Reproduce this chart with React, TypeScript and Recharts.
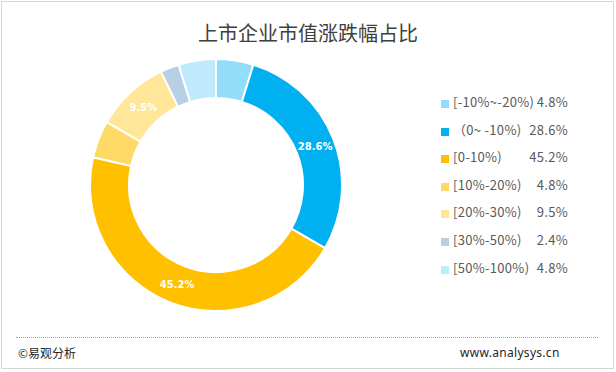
import React from 'react';
import { PieChart, Pie, Cell, Legend } from 'recharts';

const ranges = ['[-10%~-20%)', '（0~ -10%)', '[0-10%)', '[10%-20%)', '[20%-30%)', '[30%-50%)', '[50%-100%)'];
const shares = [4.8, 28.6, 45.2, 4.8, 9.5, 2.4, 4.8];
const colors = ['#92ddfa', '#00b0f0', '#ffc000', '#ffd966', '#ffe699', '#b8cfe6', '#bfeafc'];

const data = ranges.map((name, i) => ({ name, value: shares[i] }));

const RADIAN = Math.PI / 180;

const renderLabel = (props: any) => {
  const { cx, cy, midAngle, innerRadius, outerRadius, value } = props;
  if (value < 5) return null;
  const r = (innerRadius + outerRadius) / 2;
  const x = cx + r * Math.cos(-midAngle * RADIAN);
  const y = cy + r * Math.sin(-midAngle * RADIAN);
  return (
    <text x={x} y={y} fill="#fff" fontSize={10} fontWeight={600} fontFamily="DejaVu Sans" textAnchor="middle" dominantBaseline="central">
      {value.toFixed(1)}%
    </text>
  );
};

const renderLegend = () => (
  <div style={{ fontFamily: '"Noto Sans CJK SC", sans-serif', fontSize: 13, color: '#595959', letterSpacing: 0.3 }}>
    {data.map((d, i) => (
      <div key={d.name} style={{ position: 'relative', height: 27.6, width: 127 }}>
        <span style={{ position: 'absolute', left: 0, top: 4, width: 8, height: 8, background: colors[i] }} />
        <span style={{ position: 'absolute', left: 12, top: -4 }}>{d.name}</span>
        <span style={{ position: 'absolute', right: 0, top: -4 }}>{d.value.toFixed(1)}%</span>
      </div>
    ))}
  </div>
);

export default function App() {
  return (
    <div style={{ position: 'absolute', left: 0, top: 0, width: 616, height: 372, background: '#fff' }}>
      <div style={{ position: 'absolute', left: 1, top: 1, width: 611, height: 366, border: '1px solid #d6d6d6' }} />
      <div style={{ position: 'absolute', left: 0, top: 18, width: 616, textAlign: 'center', fontFamily: '"Noto Sans CJK SC", sans-serif', fontSize: 20, color: '#404040' }}>
        上市企业市值涨跌幅占比
      </div>
      <PieChart width={616} height={372} margin={{ top: 0, right: 0, bottom: 0, left: 0 }} style={{ position: 'absolute', left: 0, top: 0 }}>
        <Pie
          data={data}
          dataKey="value"
          nameKey="name"
          cx={216}
          cy={185}
          innerRadius={87}
          outerRadius={126}
          startAngle={90}
          endAngle={-270}
          stroke="#fff"
          strokeWidth={2}
          label={renderLabel}
          labelLine={false}
          isAnimationActive={false}
        >
          {data.map((d, i) => (
            <Cell key={d.name} fill={colors[i]} />
          ))}
        </Pie>
        <Legend
          layout="vertical"
          content={renderLegend}
          wrapperStyle={{ position: 'absolute', left: 441, top: 96, width: 127 }}
        />
      </PieChart>
      <div style={{ position: 'absolute', left: 16, top: 337, width: 582, borderTop: '1px dotted #a6a6a6' }} />
      <div style={{ position: 'absolute', left: 18, top: 344, fontFamily: '"Noto Sans CJK SC", sans-serif', fontSize: 12, color: '#262626' }}>
        ©易观分析
      </div>
      <div style={{ position: 'absolute', left: 460, top: 344, fontFamily: '"Noto Sans", sans-serif', fontSize: 12, color: '#262626', letterSpacing: 0.3 }}>
        www.analysys.cn
      </div>
    </div>
  );
}
